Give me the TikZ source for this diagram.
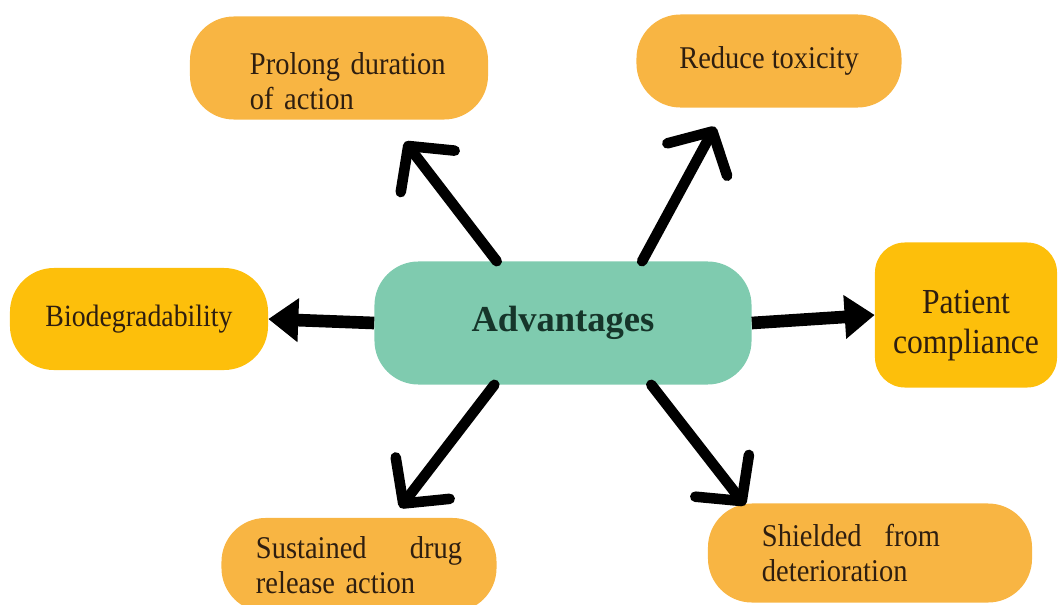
\documentclass[tikz,border=0pt]{standalone}
\usepackage{fontspec}
\setmainfont{Liberation Serif}
\newfontfamily\narrowserif{Liberation Serif}[FakeStretch=0.9]
\usetikzlibrary{arrows.meta,calc}
\definecolor{advteal}{HTML}{7FCBAF}
\definecolor{boxorange}{HTML}{F8B543}
\definecolor{boxyellow}{HTML}{FDBF0B}
\definecolor{inkbrown}{HTML}{2E1E10}
\definecolor{inkgreen}{HTML}{16352A}
\begin{document}
\begin{tikzpicture}[x=0.025cm, y=-0.025cm,
        pill/.style={fill=boxorange, rounded corners=1.1cm, inner sep=0pt, text=inkbrown,
            font=\narrowserif\fontsize{22.5}{25}\selectfont, align=left},
        goldpill/.style={pill, fill=boxyellow, align=center},
        barb/.style={line width=7.5pt, line cap=round, -{Straight Barb[length=0.8cm, width=1.7cm, round]}},
        fat/.style={line width=9pt, -{Triangle[length=0.75cm, width=1.05cm]}}]
        \useasboundingbox (0, 0) rectangle (1059, 605);

        \node[pill, fill=advteal, minimum width=9.425cm, minimum height=3.075cm, text=inkgreen,
            font=\fontsize{26}{30}\selectfont\bfseries] at (563, 323)(adv){Advantages};
        \node[pill, minimum width=7.45cm, minimum height=2.575cm, text width=6cm] at (339, 68)(prol){\hspace*{0.775cm}\rule{0pt}{1.2cm}Prolong duration\\\hspace*{0.775cm}of action};
        \node[pill, minimum width=6.625cm, minimum height=2.325cm] at (769, 61)(redu){Reduce toxicity};
        \node[goldpill, minimum width=6.45cm, minimum height=2.55cm, font=\narrowserif\fontsize{22}{26}\selectfont] at (139, 319)(bio){Biodegradability};
        \node[goldpill, rounded corners=0.75cm, minimum width=4.55cm, minimum height=3.625cm, text width=4cm,
            font=\narrowserif\fontsize{25}{28.5}\selectfont] at (966, 315)(pat){\rule{0pt}{1.1cm}Patient\\compliance};
        \node[pill, minimum width=6.875cm, minimum height=2.35cm, text width=5.15cm] at (359, 565)(sust){Sustained\hfill drug\\release action};
        \node[pill, minimum width=8.1cm, minimum height=2.475cm, text width=5.4cm] at (870, 553)(shie){\hbox to 4.45cm{Shielded\hfill from}\\deterioration};

        \coordinate (tp) at ($(prol.south)+(66, 22)$);
        \coordinate (tr) at ($(redu.south)+(-54, 19)$);
        \coordinate (ts) at ($(sust.north)+(41, -10)$);
        \coordinate (th) at ($(shie.north)+(-125, 2)$);

        \path
        (adv.137)edge[barb](tp)
        (adv.38)edge[barb](tr)
        (adv.222)edge[barb](ts)
        (adv.325)edge[barb](th)
        (adv.west)edge[fat](bio.east)
        (adv.east)edge[fat](pat.west)
        ;
    \end{tikzpicture}
\end{document}
